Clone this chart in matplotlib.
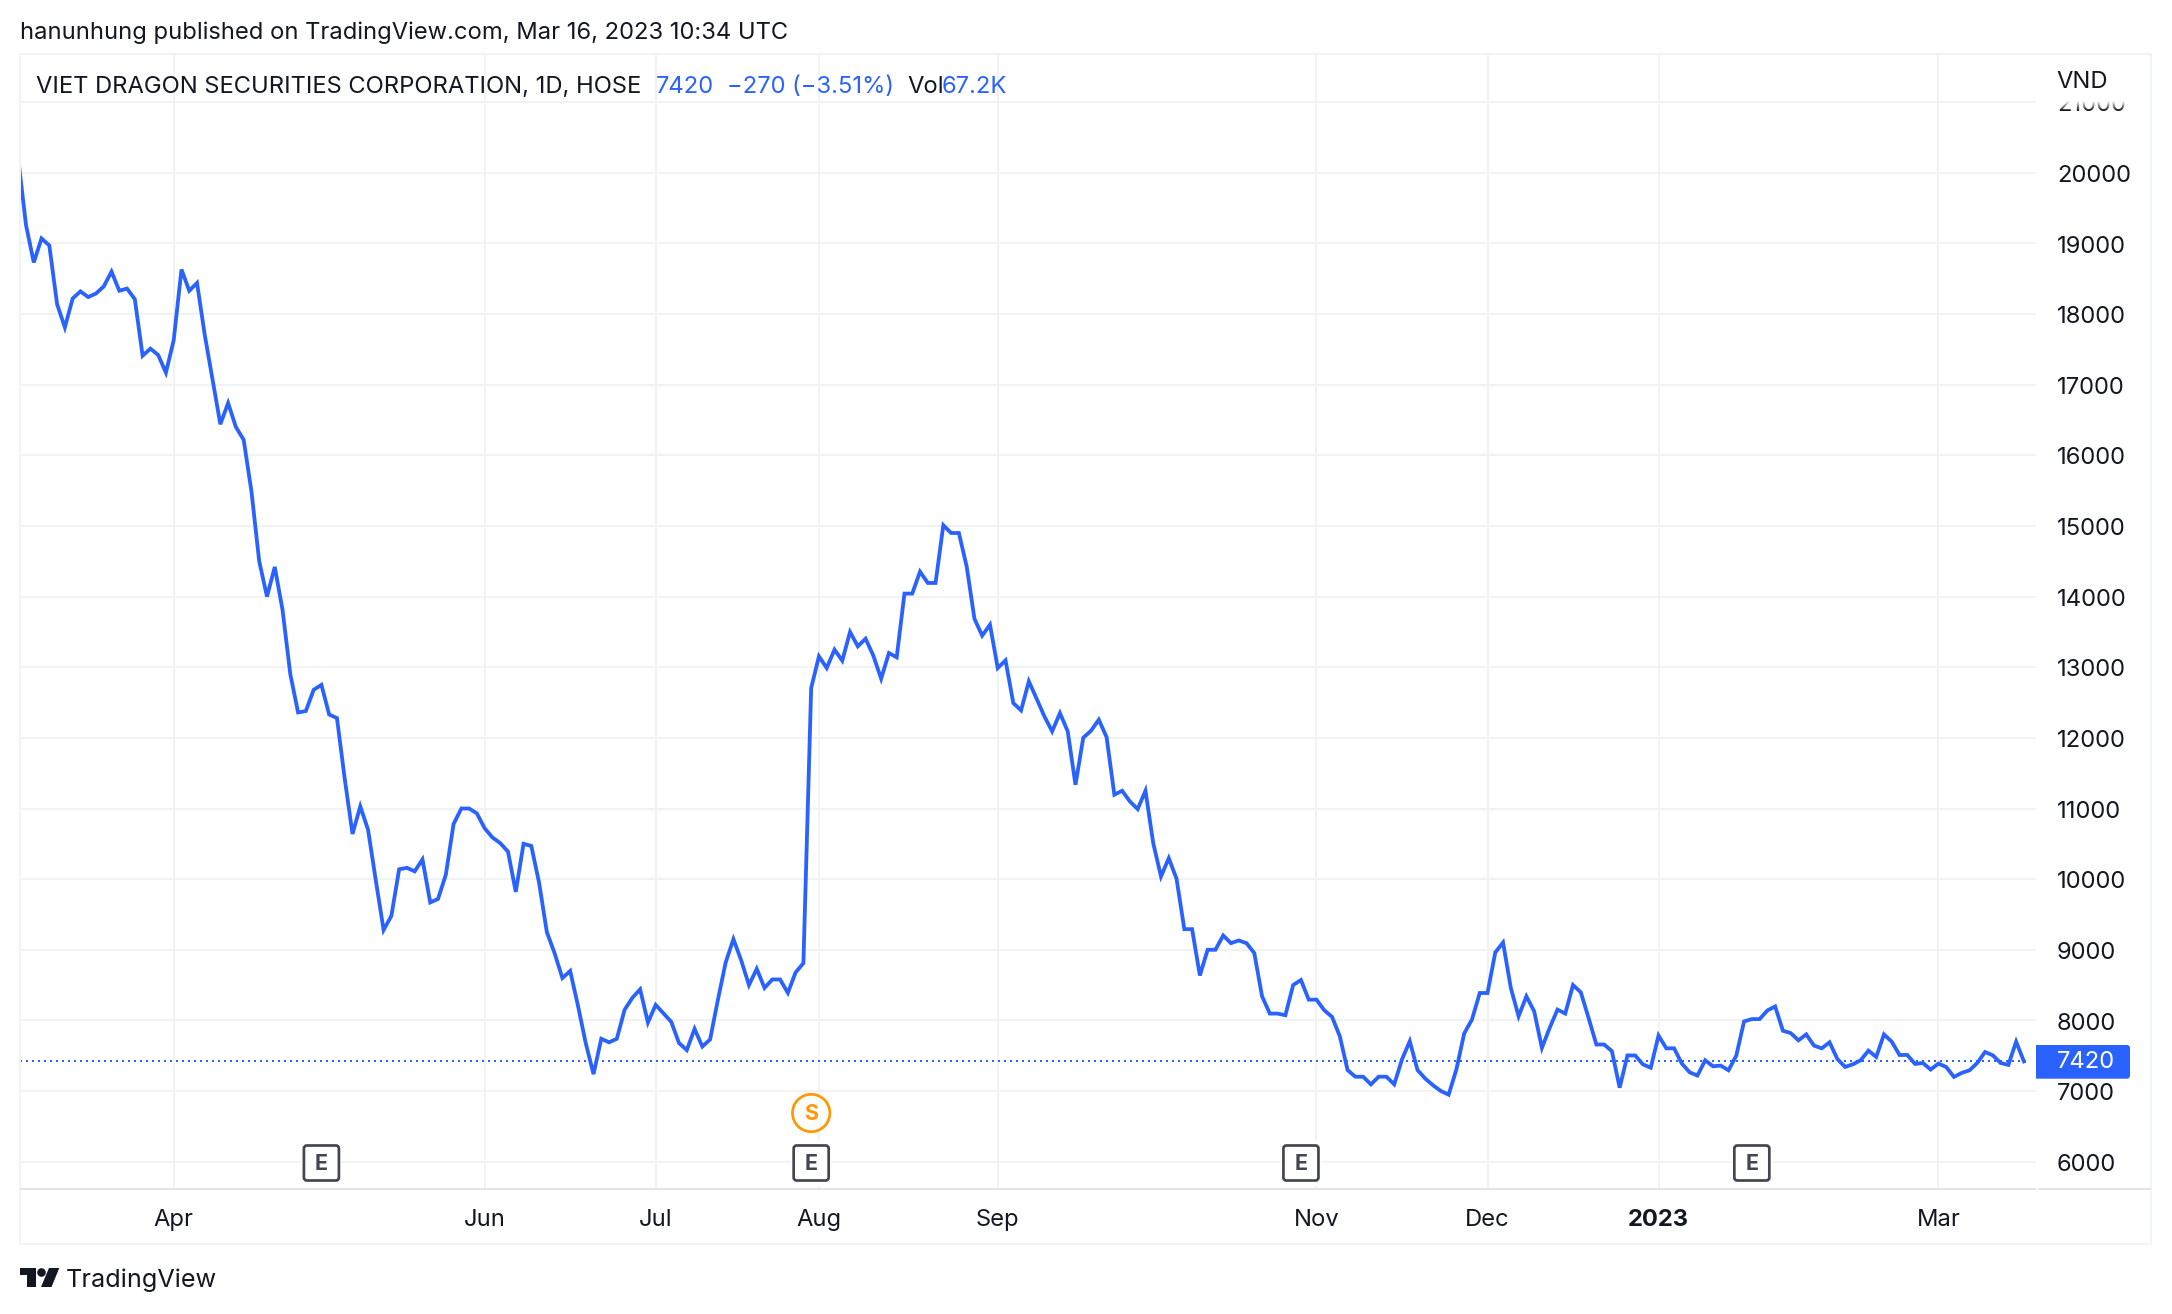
import matplotlib
matplotlib.use('Agg')
import matplotlib.pyplot as plt
from matplotlib.patches import FancyBboxPatch, Rectangle, Circle, Polygon
from matplotlib.transforms import ScaledTranslation
import numpy as np

plt.rcParams['font.family'] = ['Inter', 'DejaVu Sans']

# ---------------------- data ----------------------
closes = [
    20200, 19260, 18730, 19070, 18970, 18140, 17810, 18220, 18320, 18240,
    18290, 18390, 18600, 18330, 18360, 18210, 17410, 17510, 17420, 17170,
    17630, 18630, 18330, 18440, 17700, 17070, 16440, 16740, 16400, 16220,
    15490, 14500, 14000, 14420, 13810, 12900, 12360, 12380, 12680, 12750,
    12330, 12280, 11420, 10640, 11030, 10700, 9980, 9280, 9480, 10140,
    10160, 10110, 10280, 9670, 9720, 10060, 10780, 11000, 11000, 10930,
    10720, 10590, 10510, 10390, 9820, 10500, 10470, 9950, 9250, 8950,
    8600, 8700, 8210, 7680, 7240, 7740, 7690, 7740, 8150, 8320,
    8440, 7970, 8220, 8100, 7980, 7680, 7580, 7880, 7630, 7730,
    8290, 8820, 9150, 8850, 8500, 8730, 8460, 8580, 8580, 8390,
    8680, 8810, 12705, 13154, 12989, 13249, 13093, 13499, 13296, 13404,
    13163, 12838, 13201, 13140, 14042, 14042, 14353, 14193, 14193, 15010,
    14900, 14900, 14428, 13687, 13447, 13602, 12989, 13097, 12493, 12389,
    12800, 12554, 12304, 12092, 12351, 12092, 11336, 12002, 12101, 12257,
    12011, 11195, 11251, 11100, 10992, 11251, 10510, 10038, 10297, 10005,
    9292, 9292, 8636, 9000, 9000, 9202, 9094, 9132, 9094, 8953,
    8341, 8097, 8097, 8073, 8501, 8572, 8294, 8294, 8144, 8050,
    7777, 7297, 7203, 7203, 7095, 7203, 7203, 7095, 7448, 7706,
    7297, 7175, 7081, 7001, 6949, 7307, 7815, 8012, 8388, 8388,
    8962, 9103, 8459, 8059, 8341, 8130, 7612, 7895, 8153, 8097,
    8501, 8398, 8036, 7659, 7659, 7565, 7048, 7504, 7504, 7377,
    7330, 7786, 7605, 7605, 7389, 7266, 7219, 7436, 7351, 7360,
    7294, 7501, 7986, 8019, 8019, 8141, 8198, 7854, 7821, 7718,
    7802, 7643, 7605, 7690, 7454, 7341, 7379, 7436, 7572, 7483,
    7802, 7699, 7511, 7511, 7384, 7398, 7304, 7389, 7341, 7200,
    7257, 7294, 7398, 7553, 7506, 7398, 7370, 7699, 7420,
]
month_idx = [20, 60, 82, 103, 126, 167, 189, 211, 247]
month_labels = ['Apr', 'Jun', 'Jul', 'Aug', 'Sep', 'Nov', 'Dec', '2023', 'Mar']
price_ticks = [6000, 7000, 8000, 9000, 10000, 11000, 12000, 13000, 14000,
               15000, 16000, 17000, 18000, 19000, 20000, 21000]
earnings_idx = [39, 102, 165, 223]
split_idx = [102]
last_price = 7420

# colours
blue = '#2962FF'
ink = '#131722'
grid_c = '#F1F2F4'
frame_c = '#F0F3FA'
axis_c = '#E0E3EB'
W, H = 2172, 1314
px = 0.72  # 1 pixel in points at dpi 100
fs = 17.1

fig = plt.figure(figsize=(W / 100, H / 100), dpi=100, facecolor='white')

# ---------------------- price pane ----------------------
L, R, T, B = 20, 2036, 55, 1189
ax = fig.add_axes([L / W, 1 - B / H, (R - L) / W, (B - T) / H])
step = 7.774
ax.set_xlim(20 + (L - 173.7) / step, 20 + (R - 173.7) / step)
y_scale = 0.07064
ax.set_ylim(6000 - (B - 1161.7) / y_scale, 6000 + (1161.7 - T) / y_scale)
for s in ax.spines.values():
    s.set_visible(False)

ax.set_xticks(month_idx)
ax.set_xticklabels(month_labels)
ax.set_yticks(price_ticks)
ax.yaxis.tick_right()
ax.tick_params(axis='both', length=0, labelsize=fs, labelcolor=ink)
ax.tick_params(axis='x', pad=14.5)
ax.tick_params(axis='y', pad=15)
for lab in ax.get_xticklabels():
    if lab.get_text() == '2023':
        lab.set_fontweight('bold')
# nudge price labels down a little, they sit just under their gridline
nudge = ScaledTranslation(0, -3.2 / 100, fig.dpi_scale_trans)
for lab in ax.get_yticklabels():
    lab.set_va('center')
    lab.set_transform(lab.get_transform() + nudge)
ax.grid(True, color=grid_c, linewidth=2 * px)
ax.set_axisbelow(True)

ax.axhline(last_price, color=blue, linewidth=2 * px, linestyle=(0, (1, 2)), zorder=2)
ax.plot(range(len(closes)), closes, color=blue, linewidth=3.8 * px,
        solid_joinstyle='miter', zorder=3)

# ---------------------- chrome in pixel coordinates ----------------------
ov = fig.add_axes([0, 0, 1, 1], facecolor='none')
ov.axis('off')

# the 21000 label fades out under the header
ov.add_patch(Rectangle((2037, 56), 112, 45, facecolor='white', edgecolor='none'))
fade = np.ones((10, 1, 4))
fade[:, :, 3] = np.linspace(0.95, 0.0, 10).reshape(10, 1)
ov.imshow(fade, extent=(2037, 2149, 111, 101), aspect='auto', zorder=1)

ov.add_patch(Rectangle((L, 54), 2151 - L, 1244 - 54, fill=False, edgecolor=frame_c,
                       linewidth=2 * px))
ov.plot([L, R], [1189, 1189], color=axis_c, linewidth=2 * px, solid_capstyle='butt')
ov.plot([R + 2, 2151], [1189, 1189], color=axis_c, linewidth=2 * px, solid_capstyle='butt')

ov.text(20, 33, 'hanunhung published on TradingView.com, Mar 16, 2023 10:34 UTC',
        fontsize=fs, color=ink, va='center', ha='left')
row_y = 87
ov.text(36, row_y, 'VIET DRAGON SECURITIES CORPORATION, 1D, HOSE', fontsize=fs,
        color=ink, va='center', ha='left')
ov.text(656, row_y, '7420', fontsize=fs, color=blue, va='center', ha='left')
ov.text(727, row_y, '\u2212270 (\u22123.51%)', fontsize=fs, color=blue, va='center', ha='left')
ov.text(907, row_y, 'Vol', fontsize=fs, color=ink, va='center', ha='left')
ov.text(942, row_y, '67.2K', fontsize=fs, color=blue, va='center', ha='left')
ov.text(2056, 82, 'VND', fontsize=fs, color=ink, va='center', ha='left')

# last price tag
ov.add_patch(FancyBboxPatch((2030, 1045), 100, 33.7, boxstyle='round,pad=0,rounding_size=3',
                            facecolor=blue, edgecolor='none', zorder=3))
ov.add_patch(Rectangle((2029, 1045), 7, 33.7, facecolor='white', edgecolor='none', zorder=3))
ov.text(2057, 1062, str(last_price), fontsize=fs, color='white', va='center',
        ha='left', zorder=4)

# event markers
def bar_x(i):
    return ax.transData.transform((i, 0))[0]

for i in earnings_idx:
    cx = bar_x(i)
    ov.add_patch(FancyBboxPatch((cx - 20, 1140), 40, 46, boxstyle='square,pad=0',
                                facecolor='white', edgecolor='none', zorder=4))
    ov.add_patch(FancyBboxPatch((cx - 17.5, 1145.5), 35, 35, boxstyle='round,pad=0,rounding_size=3',
                                facecolor='white', edgecolor='#434651', linewidth=2.7 * px, zorder=5))
    ov.text(cx, 1163.5, 'E', fontsize=15.5, fontweight='bold', color='#434651',
            ha='center', va='center', zorder=6)
for i in split_idx:
    cx = bar_x(i)
    ov.add_patch(Circle((cx, 1113), 18.7, facecolor='white', edgecolor='#FF9800',
                        linewidth=2.7 * px, zorder=5))
    ov.text(cx, 1113.5, 'S', fontsize=15.5, fontweight='bold', color='#FF9800',
            ha='center', va='center', zorder=6)

# logo
logo_c = '#131722'
ov.add_patch(Polygon([(20, 1268), (36, 1268), (36, 1287), (26.7, 1287), (26.7, 1275), (20, 1275)],
                     facecolor=logo_c, edgecolor='none'))
ov.add_patch(Circle((41.5, 1272.5), 4.3, facecolor=logo_c, edgecolor='none'))
ov.add_patch(Polygon([(49, 1268), (59.3, 1268), (51.5, 1287), (41, 1287)],
                     facecolor=logo_c, edgecolor='none'))
ov.text(66, 1280.5, 'TradingView', fontsize=18.2, color=ink, va='center', ha='left')

ov.set_xlim(0, W)
ov.set_ylim(H, 0)

fig.savefig('out.png', dpi=100, facecolor='white')
